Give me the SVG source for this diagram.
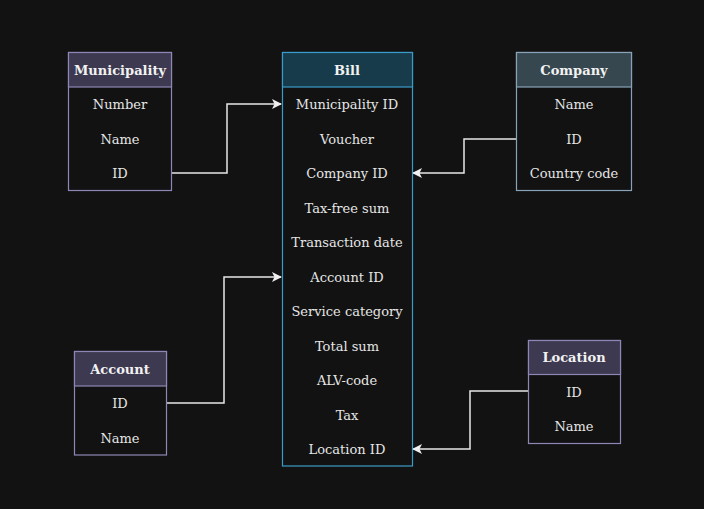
<svg xmlns="http://www.w3.org/2000/svg" width="704" height="509" viewBox="0 0 704 509">
<style>
.bg{fill:#121212}
.body{fill:#121212}
.t{font-family:"DejaVu Serif","Liberation Serif",serif;font-size:13px;fill:#e6e6e6;text-anchor:middle;dominant-baseline:central}
.h{font-family:"DejaVu Serif","Liberation Serif",serif;font-size:13px;font-weight:bold;fill:#f2f2f2;text-anchor:middle;dominant-baseline:central}
.purple{stroke:#8e87b5;stroke-width:1.2}
.ph{fill:#3d3950}
.blue{stroke:#3b9bc8;stroke-width:1.2}
.bh{fill:#173b4b}
.gray{stroke:#88a3b8;stroke-width:1.2}
.gh{fill:#37474f}
.edge{fill:none;stroke:#e8e8e8;stroke-width:1.5}
</style>
<defs>
<marker id="arr" viewBox="0 0 10 10" refX="9" refY="5" markerWidth="10" markerHeight="10" markerUnits="userSpaceOnUse" orient="auto">
<path d="M0,0 L10,5 L0,10 L2.5,5 Z" fill="#f0f0f0"/>
</marker>
</defs>
<rect class="bg" x="0" y="0" width="704" height="509"/>

<g id="connectors">
<path class="edge" d="M171,173 H227 V104 H281" marker-end="url(#arr)"/>
<path class="edge" d="M517,139 H464 V173 H413" marker-end="url(#arr)"/>
<path class="edge" d="M166,403 H224 V277 H281" marker-end="url(#arr)"/>
<path class="edge" d="M528,391 H470 V449 H413" marker-end="url(#arr)"/>
</g>

<g id="municipality">
<rect class="body purple" x="68.5" y="52.5" width="103" height="138"/>
<rect class="ph purple" x="68.5" y="52.5" width="103" height="34.5"/>
<text class="h" x="120" y="70">Municipality</text>
<text class="t" x="120" y="104.5">Number</text>
<text class="t" x="120" y="139">Name</text>
<text class="t" x="120" y="173.5">ID</text>
</g>

<g id="bill">
<rect class="body blue" x="282.5" y="52.5" width="130" height="413.5"/>
<rect class="bh blue" x="282.5" y="52.5" width="130" height="34.5"/>
<text class="h" x="347" y="70">Bill</text>
<text class="t" x="347" y="104.5">Municipality ID</text>
<text class="t" x="347" y="139">Voucher</text>
<text class="t" x="347" y="173.5">Company ID</text>
<text class="t" x="347" y="208">Tax-free sum</text>
<text class="t" x="347" y="242.5">Transaction date</text>
<text class="t" x="347" y="277">Account ID</text>
<text class="t" x="347" y="311.5">Service category</text>
<text class="t" x="347" y="346">Total sum</text>
<text class="t" x="347" y="380.5">ALV-code</text>
<text class="t" x="347" y="415">Tax</text>
<text class="t" x="347" y="449.5">Location ID</text>
</g>

<g id="company">
<rect class="body gray" x="516.5" y="52.5" width="115" height="138"/>
<rect class="gh gray" x="516.5" y="52.5" width="115" height="34.5"/>
<text class="h" x="574" y="70">Company</text>
<text class="t" x="574" y="104.5">Name</text>
<text class="t" x="574" y="139">ID</text>
<text class="t" x="574" y="173.5">Country code</text>
</g>

<g id="account">
<rect class="body purple" x="74.5" y="351.5" width="92" height="103.5"/>
<rect class="ph purple" x="74.5" y="351.5" width="92" height="34.5"/>
<text class="h" x="120" y="369">Account</text>
<text class="t" x="120" y="403.5">ID</text>
<text class="t" x="120" y="438">Name</text>
</g>

<g id="location">
<rect class="body purple" x="528.5" y="340.5" width="92" height="103"/>
<rect class="ph purple" x="528.5" y="340.5" width="92" height="34"/>
<text class="h" x="574" y="357.5">Location</text>
<text class="t" x="574" y="392">ID</text>
<text class="t" x="574" y="426.5">Name</text>
</g>
</svg>
